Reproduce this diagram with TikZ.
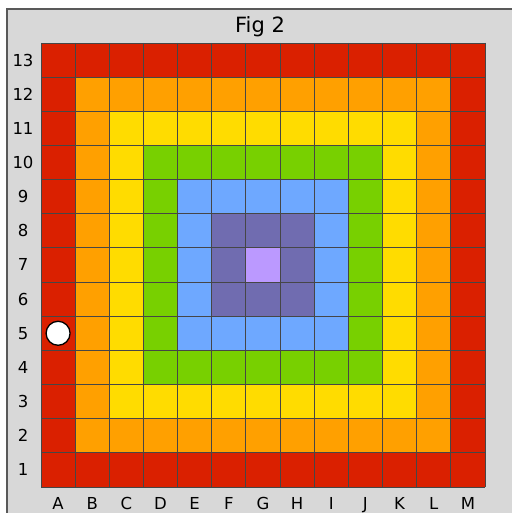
\documentclass[tikz,border=0pt]{standalone}
\usepackage{fontspec}
\setmainfont{DejaVu Sans}
\definecolor{cR}{RGB}{218,32,0}
\definecolor{cO}{RGB}{255,160,0}
\definecolor{cY}{RGB}{255,220,0}
\definecolor{cG}{RGB}{120,208,0}
\definecolor{cB}{RGB}{110,168,255}
\definecolor{cP}{RGB}{112,108,176}
\definecolor{cL}{RGB}{187,153,255}
\definecolor{bg}{RGB}{216,216,216}
\definecolor{gl}{RGB}{70,70,70}
\tikzset{lbl/.style={font=\fontsize{16.5pt}{18pt}\selectfont, text=black, inner sep=0pt, anchor=base},
  ttl/.style={font=\fontsize{21pt}{24pt}\selectfont, text=black, inner sep=0pt, anchor=base}}
\begin{document}
\begin{tikzpicture}[x=1pt,y=-1pt]
\useasboundingbox (0,0) rectangle (512,513);
\fill[white] (0,0) rectangle (512,513);
\fill[bg] (7,9) rectangle (512,513);
\draw[gray!70!black, line width=1.5pt] (7,513) -- (7,9) -- (512,9);
\node[ttl] (title) at (260,33) {Fig 2};
\def\cs{34.15}
\foreach \r in {0,...,12}{
  \foreach \c in {0,...,12}{
    \pgfmathtruncatemacro{\d}{min(min(\r,12-\r),min(\c,12-\c))}
    \ifcase\d \def\col{cR}\or \def\col{cO}\or \def\col{cY}\or \def\col{cG}\or \def\col{cB}\or \def\col{cP}\or \def\col{cL}\fi
    \fill[\col] ({41+\c*\cs},{43+\r*\cs}) rectangle ++(\cs,\cs);
  }
}
\foreach \i in {0,...,13}{
  \draw[gl, line width=0.9pt] ({41+\i*\cs},43) -- ({41+\i*\cs},{43+13*\cs});
  \draw[gl, line width=0.9pt] (41,{43+\i*\cs}) -- ({41+13*\cs},{43+\i*\cs});
}
\foreach \r in {1,...,13}{
  \node[lbl] (row\r) at (23,{43+(13-\r+0.5)*\cs+6}) {\r};
}
\foreach \L [count=\c from 0] in {A,B,C,D,E,F,G,H,I,J,K,L,M}{
  \node[lbl] (col\L) at ({41+(\c+0.5)*\cs},509) {\L};
}
\node[circle, draw=black, fill=white, line width=1.3pt, minimum size=24pt, inner sep=0pt] (piece) at ({41+0.5*\cs},{43+8.5*\cs}) {};
\end{tikzpicture}
\end{document}
